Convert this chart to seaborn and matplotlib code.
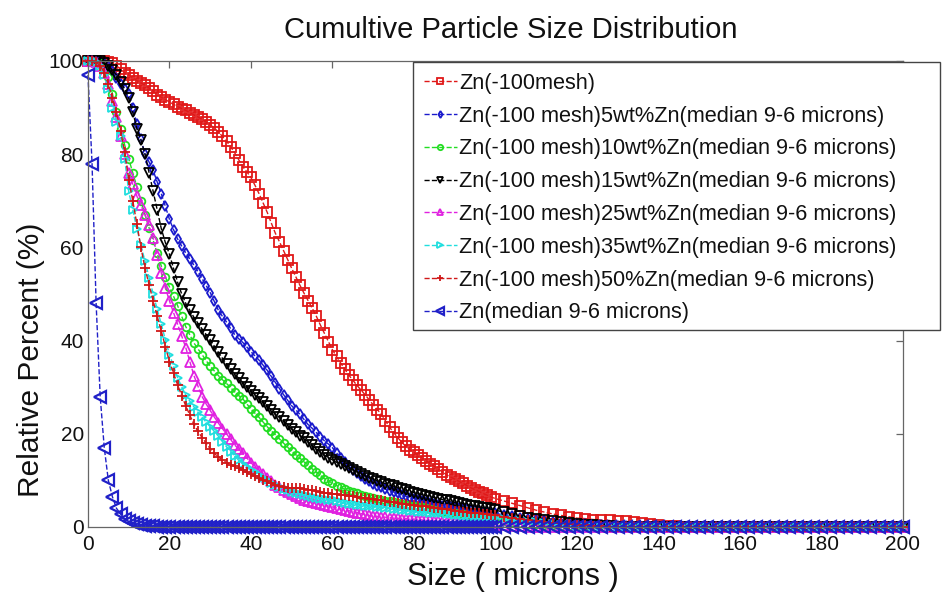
import matplotlib
matplotlib.use("Agg")
import matplotlib.pyplot as plt
from matplotlib.patches import Rectangle
import seaborn as sns

# Particle size grid (microns): 1-micron steps to 100, then 2-micron steps
size_um = [0, 1, 2, 3, 4, 5, 6, 7, 8, 9, 10,
           11, 12, 13, 14, 15, 16, 17, 18, 19, 20,
           21, 22, 23, 24, 25, 26, 27, 28, 29, 30,
           31, 32, 33, 34, 35, 36, 37, 38, 39, 40,
           41, 42, 43, 44, 45, 46, 47, 48, 49, 50,
           51, 52, 53, 54, 55, 56, 57, 58, 59, 60,
           61, 62, 63, 64, 65, 66, 67, 68, 69, 70,
           71, 72, 73, 74, 75, 76, 77, 78, 79, 80,
           81, 82, 83, 84, 85, 86, 87, 88, 89, 90,
           91, 92, 93, 94, 95, 96, 97, 98, 99, 100,
           102, 104, 106, 108, 110,
           112, 114, 116, 118, 120, 122, 124, 126, 128, 130,
           132, 134, 136, 138, 140, 142, 144, 146, 148, 150,
           152, 154, 156, 158, 160, 162, 164, 166, 168, 170,
           172, 174, 176, 178, 180, 182, 184, 186, 188, 190,
           192, 194, 196, 198, 200]

# Cumulative percent passing for each powder blend
mesh100 = [100, 100, 100, 100, 100, 99.8, 99.5, 99.0, 98.2, 97.5, 97.0,
           96.4, 95.8, 95.3, 94.8, 94.2, 93.5, 92.8, 92.2, 91.7, 91.2,
           90.7, 90.2, 89.8, 89.4, 88.9, 88.4, 88.0, 87.5, 86.9, 86.3,
           85.6, 84.8, 83.8, 82.8, 81.6, 80.3, 78.8, 77.3, 76.2, 75.0,
           73.3, 71.5, 69.5, 67.5, 65.2, 63.0, 61.2, 59.3, 57.4, 55.5,
           53.7, 51.9, 50.2, 48.6, 47.0, 45.3, 43.4, 41.6, 39.8, 38.0,
           36.6, 35.2, 33.9, 32.6, 31.5, 30.4, 29.4, 28.4, 27.3, 26.2,
           25.2, 24.2, 22.8, 21.4, 20.3, 19.2, 18.2, 17.3, 16.6, 16.0,
           15.4, 14.8, 14.2, 13.6, 13.0, 12.4, 11.8, 11.2, 10.7, 10.3,
           9.8, 9.4, 8.9, 8.4, 8.0, 7.6, 7.2, 6.8, 6.4, 6.1,
           5.6, 5.1, 4.6, 4.1, 3.6,
           3.2, 2.8, 2.5, 2.2, 1.9, 1.8, 1.6, 1.5, 1.4, 1.3,
           1.2, 1.1, 0.9, 0.7, 0.5, 0.3, 0.2, 0.1, 0, 0,
           0, 0, 0, 0, 0, 0, 0, 0, 0, 0,
           0, 0, 0, 0, 0, 0, 0, 0, 0, 0,
           0, 0, 0, 0, 0]

wt5 = [100, 100, 100, 100, 99.5, 99.0, 97.8, 96.3, 95.0, 94.0, 93.0,
       90.0, 86.5, 83.2, 80.0, 78.3, 76.5, 74.0, 71.5, 68.8, 66.0,
       63.8, 61.8, 60.3, 58.8, 57.5, 56.2, 54.8, 53.3, 51.8, 50.3,
       48.4, 46.5, 45.2, 44.0, 42.6, 41.3, 40.4, 39.6, 38.6, 37.6,
       36.7, 35.8, 34.7, 33.6, 32.3, 31.0, 29.7, 28.4, 27.2, 26.0,
       25.1, 24.2, 23.1, 22.0, 21.2, 20.3, 19.4, 18.5, 17.8, 17.0,
       15.9, 14.8, 13.9, 13.0, 12.3, 11.6, 10.9, 10.3, 9.8, 9.3,
       8.9, 8.5, 8.1, 7.8, 7.5, 7.2, 6.9, 6.6, 6.3, 6.1,
       5.8, 5.6, 5.4, 5.2, 5.0, 4.8, 4.6, 4.5, 4.3, 4.2,
       4.0, 3.9, 3.8, 3.7, 3.6, 3.5, 3.3, 3.2, 3.0, 2.9,
       2.6, 2.3, 2.0, 1.8, 1.5,
       1.3, 1.1, 0.9, 0.8, 0.7, 0.6, 0.5, 0.4, 0.3, 0.2,
       0.2, 0.1, 0.1, 0, 0, 0, 0, 0, 0, 0,
       0, 0, 0, 0, 0, 0, 0, 0, 0, 0,
       0, 0, 0, 0, 0, 0, 0, 0, 0, 0,
       0, 0, 0, 0, 0]

wt10 = [100, 100, 99.8, 99.5, 98.5, 96.5, 93.0, 89.0, 85.5, 82.0, 79.0,
        76.0, 73.0, 70.0, 67.0, 64.2, 61.5, 58.7, 56.0, 53.7, 51.5,
        49.5, 47.5, 45.2, 43.0, 41.2, 39.5, 38.2, 37.0, 35.7, 34.5,
        33.5, 32.5, 31.6, 30.8, 29.9, 29.0, 28.2, 27.5, 26.4, 25.3,
        24.4, 23.5, 22.5, 21.5, 20.6, 19.8, 18.9, 18.0, 17.1, 16.3,
        15.5, 14.8, 14.0, 13.3, 12.5, 11.8, 11.1, 10.4, 9.9, 9.4,
        8.9, 8.5, 8.1, 7.8, 7.5, 7.2, 6.9, 6.7, 6.4, 6.2,
        6.0, 5.8, 5.6, 5.5, 5.3, 5.1, 4.9, 4.8, 4.6, 4.5,
        4.3, 4.2, 4.0, 3.9, 3.7, 3.5, 3.3, 3.2, 3.1, 3.0,
        2.8, 2.7, 2.5, 2.4, 2.2, 2.1, 1.9, 1.8, 1.6, 1.5,
        1.2, 1.0, 0.8, 0.7, 0.6,
        0.5, 0.4, 0.3, 0.3, 0.2, 0.2, 0.1, 0.1, 0, 0,
        0, 0, 0, 0, 0, 0, 0, 0, 0, 0,
        0, 0, 0, 0, 0, 0, 0, 0, 0, 0,
        0, 0, 0, 0, 0, 0, 0, 0, 0, 0,
        0, 0, 0, 0, 0]

wt15 = [100, 100, 100, 100, 99.5, 99.0, 98.0, 97.0, 95.5, 94.0, 92.0,
        89.0, 85.5, 83.0, 80.0, 76.0, 72.0, 68.0, 64.0, 61.0, 58.5,
        55.5, 52.5, 50.0, 48.0, 46.5, 45.0, 43.7, 42.5, 41.3, 40.2,
        38.8, 37.5, 36.2, 35.0, 33.9, 32.8, 31.9, 31.0, 30.1, 29.2,
        28.4, 27.6, 26.8, 26.0, 25.1, 24.2, 23.5, 22.8, 21.9, 21.0,
        20.3, 19.6, 19.0, 18.3, 17.5, 16.8, 16.1, 15.4, 14.9, 14.4,
        13.9, 13.5, 13.0, 12.6, 12.2, 11.8, 11.4, 11.0, 10.6, 10.3,
        9.9, 9.6, 9.3, 9.0, 8.7, 8.4, 8.1, 7.9, 7.6, 7.4,
        7.1, 6.9, 6.7, 6.5, 6.3, 6.1, 5.9, 5.7, 5.5, 5.3,
        5.1, 5.0, 4.8, 4.6, 4.4, 4.3, 4.1, 4.0, 3.8, 3.6,
        3.2, 2.8, 2.4, 2.0, 1.7,
        1.4, 1.2, 1.0, 0.8, 0.6, 0.5, 0.4, 0.3, 0.2, 0.1,
        0, 0, 0, 0, 0, 0, 0, 0, 0, 0,
        0, 0, 0, 0, 0, 0, 0, 0, 0, 0,
        0, 0, 0, 0, 0, 0, 0, 0, 0, 0,
        0, 0, 0, 0, 0]

wt25 = [100, 100, 99.8, 99.0, 97.5, 95.0, 91.5, 88.0, 84.0, 80.0, 76.0,
        73.5, 71.0, 69.0, 67.0, 64.7, 62.0, 58.3, 54.5, 51.3, 48.5,
        46.0, 43.5, 41.0, 38.5, 35.5, 32.5, 30.2, 28.0, 26.4, 25.0,
        23.6, 22.3, 21.1, 20.0, 18.8, 17.6, 16.7, 15.8, 14.8, 13.8,
        12.9, 12.0, 11.3, 10.6, 9.8, 9.1, 8.5, 8.0, 7.5, 7.0,
        6.6, 6.2, 5.9, 5.6, 5.3, 5.1, 4.9, 4.7, 4.5, 4.3,
        4.1, 3.9, 3.7, 3.5, 3.3, 3.1, 2.9, 2.7, 2.5, 2.4,
        2.3, 2.2, 2.1, 2.0, 1.9, 1.9, 1.8, 1.8, 1.7, 1.7,
        1.6, 1.5, 1.4, 1.4, 1.3, 1.2, 1.1, 1.1, 1.0, 1.0,
        0.9, 0.9, 0.8, 0.8, 0.7, 0.7, 0.6, 0.6, 0.5, 0.5,
        0.4, 0.3, 0.2, 0.1, 0,
        0, 0, 0, 0, 0, 0, 0, 0, 0, 0,
        0, 0, 0, 0, 0, 0, 0, 0, 0, 0,
        0, 0, 0, 0, 0, 0, 0, 0, 0, 0,
        0, 0, 0, 0, 0, 0, 0, 0, 0, 0,
        0, 0, 0, 0, 0]

wt35 = [100, 100, 99.8, 99.0, 97.0, 94.0, 90.0, 87.0, 84.0, 79.0, 72.0,
        68.0, 64.0, 60.5, 57.0, 53.5, 50.0, 46.7, 43.5, 40.2, 37.0,
        34.5, 32.0, 30.1, 28.3, 27.0, 25.8, 24.6, 23.5, 22.5, 21.5,
        20.5, 19.5, 18.3, 17.2, 16.2, 15.2, 14.3, 13.5, 12.8, 12.2,
        11.7, 11.2, 10.6, 10.1, 9.5, 9.0, 8.6, 8.2, 7.9, 7.6,
        7.3, 7.1, 6.9, 6.7, 6.5, 6.3, 6.1, 6.0, 5.8, 5.7,
        5.5, 5.3, 5.1, 5.0, 4.9, 4.8, 4.7, 4.6, 4.5, 4.4,
        4.3, 4.2, 4.1, 4.0, 3.9, 3.8, 3.7, 3.6, 3.5, 3.4,
        3.3, 3.3, 3.2, 3.1, 3.0, 3.0, 2.9, 2.8, 2.7, 2.6,
        2.5, 2.4, 2.3, 2.2, 2.1, 2.1, 2.0, 2.0, 1.9, 1.9,
        1.7, 1.5, 1.3, 1.1, 1.0,
        0.8, 0.7, 0.5, 0.4, 0.3, 0.2, 0.1, 0.1, 0, 0,
        0, 0, 0, 0, 0, 0, 0, 0, 0, 0,
        0, 0, 0, 0, 0, 0, 0, 0, 0, 0,
        0, 0, 0, 0, 0, 0, 0, 0, 0, 0,
        0, 0, 0, 0, 0]

wt50 = [100, 100, 99.8, 99.0, 97.5, 95.0, 92.0, 89.0, 85.0, 80.5, 74.5,
        70.0, 65.0, 60.0, 55.5, 52.0, 48.5, 45.2, 42.0, 38.7, 35.5,
        33.0, 30.5, 28.2, 26.0, 24.0, 22.0, 20.5, 19.2, 18.0, 16.8,
        15.8, 15.0, 14.4, 13.8, 13.4, 13.0, 12.6, 12.2, 11.7, 11.3,
        10.9, 10.5, 10.1, 9.8, 9.4, 9.0, 8.7, 8.5, 8.4, 8.3,
        8.3, 8.3, 8.2, 8.0, 7.9, 7.7, 7.5, 7.3, 7.2, 7.1,
        7.0, 6.9, 6.8, 6.7, 6.6, 6.5, 6.3, 6.2, 6.1, 6.0,
        5.8, 5.7, 5.5, 5.4, 5.3, 5.2, 5.0, 4.9, 4.8, 4.7,
        4.6, 4.5, 4.4, 4.3, 4.1, 4.0, 3.9, 3.8, 3.6, 3.5,
        3.4, 3.3, 3.2, 3.1, 3.0, 2.9, 2.8, 2.7, 2.6, 2.5,
        2.2, 2.0, 1.8, 1.5, 1.3,
        1.1, 0.9, 0.8, 0.6, 0.5, 0.4, 0.3, 0.2, 0.1, 0,
        0, 0, 0, 0, 0, 0, 0, 0, 0, 0,
        0, 0, 0, 0, 0, 0, 0, 0, 0, 0,
        0, 0, 0, 0, 0, 0, 0, 0, 0, 0,
        0, 0, 0, 0, 0]

fine_only = [97.0, 78.0, 48.0, 28.0, 17.0, 10.0, 6.5, 4.0, 2.8, 1.8, 1.2,
             0.9, 0.6, 0.45, 0.3, 0.25, 0.2, 0.1, 0, 0, 0,
             0, 0, 0, 0, 0, 0, 0, 0, 0, 0,
             0, 0, 0, 0, 0, 0, 0, 0, 0, 0,
             0, 0, 0, 0, 0, 0, 0, 0, 0, 0,
             0, 0, 0, 0, 0, 0, 0, 0, 0, 0,
             0, 0, 0, 0, 0, 0, 0, 0, 0, 0,
             0, 0, 0, 0, 0, 0, 0, 0, 0, 0,
             0, 0, 0, 0, 0, 0, 0, 0, 0, 0,
             0, 0, 0, 0, 0, 0, 0, 0, 0, 0,
             0, 0, 0, 0, 0,
             0, 0, 0, 0, 0, 0, 0, 0, 0, 0,
             0, 0, 0, 0, 0, 0, 0, 0, 0, 0,
             0, 0, 0, 0, 0, 0, 0, 0, 0, 0,
             0, 0, 0, 0, 0, 0, 0, 0, 0, 0,
             0, 0, 0, 0, 0]

series_labels = ["Zn(-100mesh)",
                 "Zn(-100 mesh)5wt%Zn(median 9-6 microns)",
                 "Zn(-100 mesh)10wt%Zn(median 9-6 microns)",
                 "Zn(-100 mesh)15wt%Zn(median 9-6 microns)",
                 "Zn(-100 mesh)25wt%Zn(median 9-6 microns)",
                 "Zn(-100 mesh)35wt%Zn(median 9-6 microns)",
                 "Zn(-100 mesh)50%Zn(median 9-6 microns)",
                 "Zn(median 9-6 microns)"]
series_values = [mesh100, wt5, wt10, wt15, wt25, wt35, wt50, fine_only]

x_ticks = [0, 20, 40, 60, 80, 100, 120, 140, 160, 180, 200]
y_ticks = [0, 20, 40, 60, 80, 100]

colors = ["#e01818", "#1a1acc", "#22dd22", "#000000",
          "#e020e0", "#20dede", "#d01818", "#2020c8"]
markers = ["s", "d", "o", "v", "^", ">", "+", "<"]
msizes = [6.5, 5.0, 5.5, 6.5, 6.5, 5.5, 6.5, 8.0]
medges = [1.3, 1.3, 1.3, 1.3, 1.3, 1.3, 1.3, 1.6]

sns.set_style("white")
plt.rcParams["font.family"] = ["Liberation Sans", "DejaVu Sans"]

fig = plt.figure(figsize=(9.52, 5.92), dpi=100)
ax = fig.add_axes([0.0924, 0.1098, 0.8561, 0.7872])

for lab, vals, c, m, ms, mew in zip(series_labels, series_values, colors,
                                    markers, msizes, medges):
    sns.lineplot(x=size_um, y=vals, ax=ax, color=c, marker=m, markersize=ms,
                 markerfacecolor="none" if m != "+" else c,
                 markeredgecolor=c, markeredgewidth=mew,
                 linestyle="--", linewidth=1.0, label=lab,
                 estimator=None, sort=False, clip_on=False)

if ax.get_legend() is not None:
    ax.get_legend().remove()

ax.set_xlim(0, 200)
ax.set_ylim(0, 100)
ax.set_xticks(x_ticks)
ax.set_yticks(y_ticks)
ax.tick_params(direction="in", length=5, width=0.9, color="#666666",
               top=True, right=True, labelsize=15, labelcolor="#111111")
ax.tick_params(axis="y", pad=3)
ax.tick_params(axis="x", pad=6)
for sp in ax.spines.values():
    sp.set_visible(True)
    sp.set_color("#666666")
    sp.set_linewidth(0.9)

ax.set_xlabel("Size ( microns )", fontsize=22, color="#111111")
ax.set_ylabel("Relative Percent (%)", fontsize=21.5, color="#111111")
ax.xaxis.set_label_coords(0.521, -0.075)
ax.yaxis.set_label_coords(-0.053, 0.358)

fig.text(0.536, 0.949, "Cumultive Particle Size Distribution",
         ha="center", va="center", fontsize=21, color="#111111")

# Legend frame drawn separately so it can carry the wide right margin
fig.patches.append(Rectangle((413 / 952, 1 - 330 / 592), (940 - 413) / 952, (330 - 62) / 592,
                             transform=fig.transFigure, facecolor="white",
                             edgecolor="#444444", linewidth=1.0, zorder=3))

handles, labels = ax.get_legend_handles_labels()
leg = fig.legend(handles, labels, loc="upper left",
                 bbox_to_anchor=(413 / 952, 1 - 62 / 592),
                 frameon=False, fontsize=15.7, handlelength=1.5, handletextpad=0.1,
                 labelspacing=0.54, borderpad=0.5, borderaxespad=0,
                 markerscale=0.7)
leg.set_zorder(5)
for t in leg.get_texts():
    t.set_color("#111111")

fig.savefig("out.png", dpi=100, facecolor="white")
